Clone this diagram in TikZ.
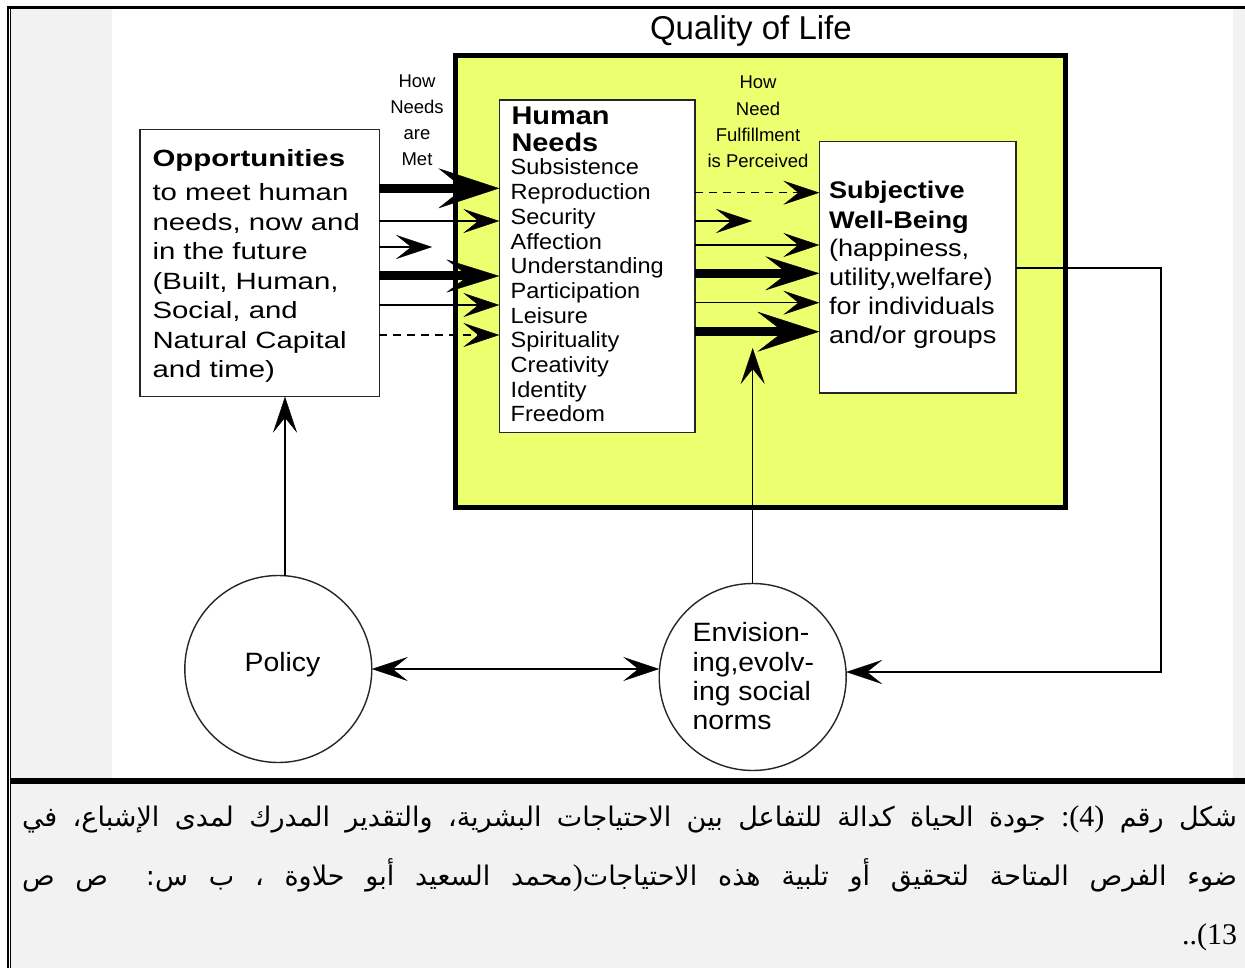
\documentclass[tikz,border=0pt]{standalone}
\usepackage{fontspec}
\usetikzlibrary{arrows.meta}
\setmainfont{Liberation Sans}
\newfontfamily\lsA{Liberation Sans}
\newfontfamily\lsB[FakeStretch=1.07]{Liberation Sans}
\newfontfamily\lsC[FakeStretch=1.13]{Liberation Sans}
\newfontfamily\lsD[FakeStretch=1.25]{Liberation Sans}
\newfontfamily\arabicfont[Script=Arabic]{DejaVu Sans}
\newfontfamily\latserif{Liberation Serif}
\TeXXeTstate=1

% stacked lines with a fixed baseline distance; the box baseline is the first line
\newcommand\lstack[2]{\vtop{\baselineskip=#1\lineskiplimit=-\maxdimen\lineskip=0pt\halign{##\hfil\cr#2\crcr}}}
\newcommand\cstack[2]{\vtop{\baselineskip=#1\lineskiplimit=-\maxdimen\lineskip=0pt\halign{\hfil##\hfil\cr#2\crcr}}}

\definecolor{qolyellow}{RGB}{236,255,110}
\definecolor{cellgray}{RGB}{242,242,242}

\begin{document}
\begin{tikzpicture}[x=1pt,y=-1pt,
  txt/.style={inner sep=0pt, outer sep=0pt, text=black},
  box/.style={draw=black!85, line width=1.4pt, fill=white, inner sep=0pt, outer sep=0pt, anchor=north west},
  ring/.style={circle, draw=black!85, line width=1.4pt, fill=white, minimum size=187pt, inner sep=0pt, outer sep=0pt},
  thinA/.style={line width=1.4pt, -{Stealth[length=36pt,width=24pt,inset=15pt,line width'=0.4pt]}},
  thinB/.style={line width=1.4pt, {Stealth[length=36pt,width=24pt,inset=15pt,line width'=0.4pt]}-{Stealth[length=36pt,width=24pt,inset=15pt,line width'=0.4pt]}},
  dashA/.style={thinA, dash pattern=on 8pt off 6pt},
  bigA/.style n args={3}{line width=9pt, -{Stealth[length=#1pt,width=#2pt,inset=#3pt,line width'=0.4pt]}},
  captext/.style={txt, anchor=base east}
]
\useasboundingbox (0,0) rectangle (1245,968);

% page, table cells and rules
\fill[white] (0,0) rectangle (1245,968);
\fill[cellgray] (11.3,9.3) rectangle (1245,968);
\fill[white] (112,9.3) rectangle (1233,778.3);
\fill[black] (6.5,6) rectangle (1245,9.3);
\fill[black] (6.5,6) rectangle (9,968);
\fill[black] (10,9.3) rectangle (11.3,968);
\fill[black] (11.3,778.3) rectangle (1245,783.8);

% frame of the quality of life
\node[box, draw=black, line width=5.5pt, fill=qolyellow, minimum width=610pt, minimum height=452pt] (qol) at (455.5,55.5) {};
\node[txt, font=\lsA\fontsize{33}{33}\selectfont, anchor=base west] (qoltitle) at (650,40) {Quality of Life};

% boxes
\node[box, minimum width=239.3pt, minimum height=267.4pt] (opp) at (140,129.3) {};
\node[box, minimum width=195.7pt, minimum height=332.7pt] (hn) at (499.3,100) {};
\node[box, minimum width=196.7pt, minimum height=251.3pt] (swb) at (819.3,141.7) {};
\node[ring] (pol) at (278.3,669) {};
\node[ring] (env) at (752.7,677) {};

% labels over the arrows
\node[txt, font=\lsA\fontsize{18.5}{18.5}\selectfont, anchor=base] (metlabel) at (417,88)
  {\cstack{26pt}{How\cr Needs\cr are\cr Met}};
\node[txt, font=\lsA\fontsize{18.5}{18.5}\selectfont, anchor=base] (perclabel) at (758,89)
  {\cstack{26.3pt}{How\cr Need\cr Fulfillment\cr is Perceived}};

% box texts
\node[txt, font=\lsD\bfseries\fontsize{23.5}{23.5}\selectfont, anchor=base west] (opphead) at (152.5,166.7) {Opportunities};
\node[txt, font=\lsD\fontsize{23.5}{23.5}\selectfont, anchor=base west] (oppbody) at (152.5,201)
  {\lstack{29.5pt}{to meet human\cr needs, now and\cr in the future\cr (Built, Human,\cr Social, and\cr Natural Capital\cr and time)}};

\node[txt, font=\lsC\bfseries\fontsize{25.6}{25.6}\selectfont, anchor=base west] (hnhead) at (511.5,125)
  {\lstack{26.7pt}{Human\cr Needs}};
\node[txt, font=\lsB\fontsize{22}{22}\selectfont, anchor=base west] (hnlist) at (510.7,175)
  {\lstack{24.67pt}{Subsistence\cr Reproduction\cr Security\cr Affection\cr Understanding\cr Participation\cr Leisure\cr Spirituality\cr Creativity\cr Identity\cr Freedom}};

\node[txt, font=\lsC\bfseries\fontsize{24}{24}\selectfont, anchor=base west] (swbhead) at (829,199)
  {\lstack{30pt}{Subjective\cr Well-Being}};
\node[txt, font=\lsC\fontsize{24}{24}\selectfont, anchor=base west] (swbbody) at (829,257)
  {\lstack{29pt}{(happiness,\cr utility,welfare)\cr for individuals\cr and/or groups}};

\node[txt, font=\lsB\fontsize{26.5}{26.5}\selectfont, anchor=base] (poltext) at (282.5,671.7) {Policy};
\node[txt, font=\lsB\fontsize{26.5}{26.5}\selectfont, anchor=base west] (envtext) at (692.7,641.7)
  {\lstack{29.4pt}{Envision-\cr ing,evolv-\cr ing social\cr norms}};

% opportunities -> human needs
\coordinate (freeL) at (432,247);
\draw[bigA={61}{40}{25}] (opp.east |- 0,188.3) -- (hn.west |- 0,188.3);
\draw[thinA] (opp.east |- 0,221) -- (hn.west |- 0,221);
\draw[thinA] (opp.east |- freeL) -- (freeL);
\draw[bigA={53}{33}{22}] (opp.east |- 0,276) -- (hn.west |- 0,276);
\draw[thinA] (opp.east |- 0,305) -- (hn.west |- 0,305);
\draw[dashA] (opp.east |- 0,335) -- (hn.west |- 0,335);

% human needs -> subjective well-being
\coordinate (freeR) at (752,221);
\draw[dashA] (hn.east |- 0,192.7) -- (swb.west |- 0,192.7);
\draw[thinA] (hn.east |- freeR) -- (freeR);
\draw[thinA] (hn.east |- 0,245) -- (swb.west |- 0,245);
\draw[bigA={54}{34}{22}] (hn.east |- 0,273.3) -- (swb.west |- 0,273.3);
\draw[thinA] (hn.east |- 0,302.7) -- (swb.west |- 0,302.7);
\draw[bigA={62}{40}{26}] (hn.east |- 0,331.7) -- (swb.west |- 0,331.7);

% policy and social norms
\draw[thinA] ([xshift=6.7pt]pol.north) -- ([xshift=6.7pt]pol.north |- opp.south);
\draw[thinA] (env.north) -- (env.north |- 0,348);
\draw[thinB] (pol.east) -- (pol.east -| env.west);
\coordinate (fbturn) at (1161,672);
\draw[thinA] (swb.east |- 0,268) -| (fbturn) -- (env.east |- fbturn);

% caption
\node[captext] (cap1) at (1237,826.7)
  {\hbox to 1215pt{\arabicfont\fontsize{27}{27}\selectfont\spaceskip=0.25em plus 1fil minus 0.12em
   \beginR شكل رقم \beginL{\latserif\fontsize{30}{30}\selectfont :(4)}\endL{} جودة الحياة كدالة للتفاعل بين الاحتياجات البشرية، والتقدير المدرك لمدى الإشباع، في\endR}};
\node[captext] (cap2) at (1237,885.3)
  {\hbox to 1215pt{\arabicfont\fontsize{27}{27}\selectfont\spaceskip=0.25em plus 1fil minus 0.12em
   \beginR ضوء الفرص المتاحة لتحقيق أو تلبية هذه الاحتياجات\beginL{\latserif\fontsize{30}{30}\selectfont )}\endL{}محمد السعيد أبو حلاوة ، ب س: ص ص\endR}};
\node[captext, font=\latserif\fontsize{30}{30}\selectfont] (cap3) at (1237,944) {..(13};
\end{tikzpicture}
\end{document}
